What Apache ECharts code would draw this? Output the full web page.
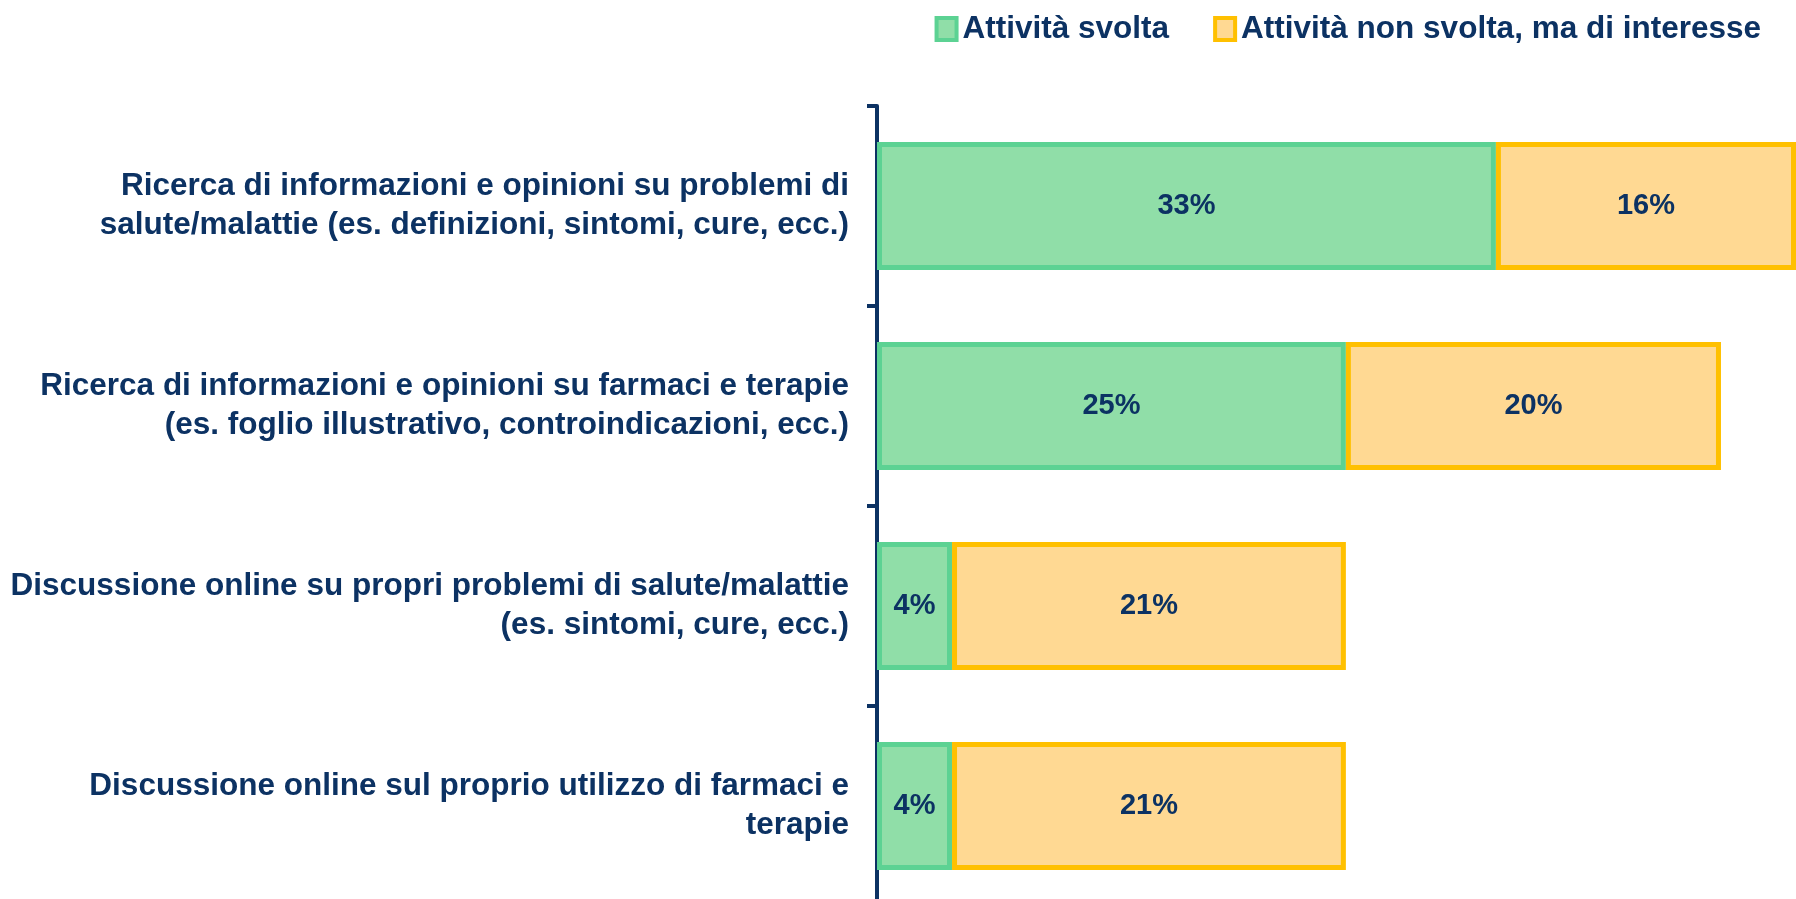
<!DOCTYPE html>
<html>
<head>
<meta charset="utf-8">
<script src="https://cdn.jsdelivr.net/npm/echarts@6/dist/echarts.min.js"></script>
<style>
  html, body { margin: 0; padding: 0; background: #fff; }
  #chart { width: 1796px; height: 899px; }
</style>
</head>
<body>
<div id="chart"></div>
<script>
// dati
const categories = [
  'Ricerca di informazioni e opinioni su problemi di\nsalute/malattie (es. definizioni, sintomi, cure, ecc.)',
  'Ricerca di informazioni e opinioni su farmaci e terapie\n(es. foglio illustrativo, controindicazioni, ecc.)',
  'Discussione online su propri problemi di salute/malattie\n(es. sintomi, cure, ecc.)',
  'Discussione online sul proprio utilizzo di farmaci e\nterapie'
]
const svolta = [33, 25, 4, 4]
const nonSvolta = [16, 20, 21, 21]
const seriesNames = ['Attività svolta', 'Attività non svolta, ma di interesse']

const navy = '#0c3263'
const font = 'Liberation Sans'

// etichetta dentro le barre
const barLabel = {
  show: true,
  position: 'inside',
  formatter: '{c}%',
  color: navy,
  fontSize: 29,
  fontWeight: 'bold',
  fontFamily: font
}

const myChart = echarts.init(document.getElementById('chart'))
myChart.setOption({
  animation: false,
  legend: {
    top: 8,
    right: 30,
    icon: 'rect',
    itemWidth: 20,
    itemHeight: 22,
    itemGap: 44,
    itemStyle: { borderWidth: 4 },
    textStyle: { color: navy, fontSize: 31.5, fontWeight: 'bold', fontFamily: font, padding: [0, 0, 0, 1] },
    data: seriesNames
  },
  grid: {
    left: 877,
    right: 0,
    top: 106,
    height: 800,
    outerBoundsMode: 'none', // l'asse esce dal canvas in basso
    containLabel: false
  },
  xAxis: {
    type: 'value',
    min: 0,
    max: 49,
    show: false
  },
  yAxis: {
    type: 'category',
    inverse: true,
    data: categories,
    axisLine: { show: true, lineStyle: { color: navy, width: 4 } },
    axisTick: { show: true, length: 10, lineStyle: { color: navy, width: 4 } },
    axisLabel: {
      margin: 28,
      color: navy,
      fontSize: 31.5,
      fontWeight: 'bold',
      fontFamily: font,
      lineHeight: 39,
      align: 'right'
    },
    splitLine: { show: false }
  },
  series: [
    {
      name: seriesNames[0],
      type: 'bar',
      stack: 'tot',
      barWidth: '64%',
      data: svolta,
      itemStyle: { color: '#90dea8', borderColor: '#5cd293', borderWidth: 5 },
      label: barLabel
    },
    {
      name: seriesNames[1],
      type: 'bar',
      stack: 'tot',
      data: nonSvolta,
      itemStyle: { color: '#ffd993', borderColor: '#ffc000', borderWidth: 5 },
      label: barLabel
    }
  ]
})
</script>
</body>
</html>
